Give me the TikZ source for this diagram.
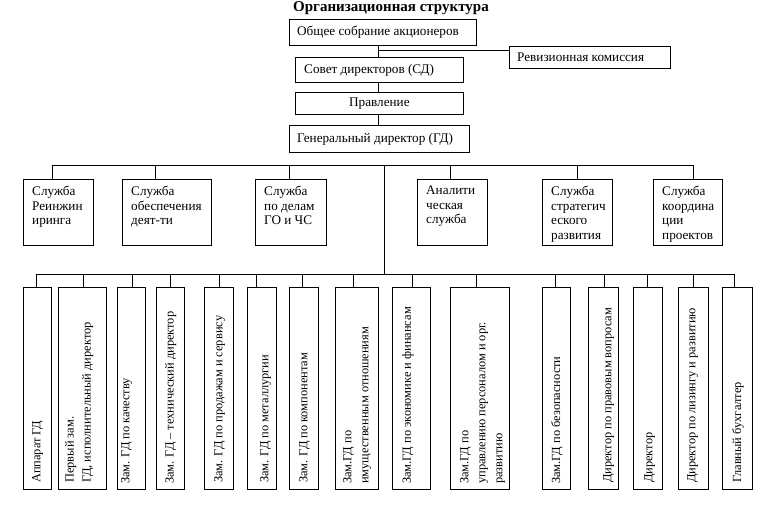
\documentclass[tikz,border=0pt]{standalone}
\usepackage{fontspec}
\setmainfont{Liberation Serif}
\begin{document}
\begin{tikzpicture}[x=1pt,y=-1pt,
  box/.style={draw, line width=0.8pt, inner sep=0pt, anchor=north west},
  lbl/.style={inner sep=0pt, font=\fontsize{13.2}{14.5}\selectfont, align=left},
  vlbl/.style={inner sep=0pt, font=\fontsize{12.4}{17}\selectfont, align=left, rotate=90, anchor=north west},
  wire/.style={line width=0.8pt}]
\useasboundingbox (0,0) rectangle (777,505);
% title
\node[inner sep=0pt, font=\bfseries\fontsize{15}{17}\selectfont] (title) at (391,8.5) {Организационная структура};
% top chain
\node[box, minimum width=187pt, minimum height=26pt] (osa) at (289,19) {};
\node[lbl, anchor=west] (osat) at ([xshift=8pt]osa.west) {Общее собрание акционеров};
\node[box, minimum width=161pt, minimum height=22pt] (rk) at (509,46) {};
\node[lbl, anchor=west] (rkt) at ([xshift=8pt]rk.west) {Ревизионная комиссия};
\node[box, minimum width=168pt, minimum height=25pt] (sd) at (295,57) {};
\node[lbl, anchor=west] (sdt) at ([xshift=9pt]sd.west) {Совет директоров (СД)};
\node[box, minimum width=168pt, minimum height=22pt] (pr) at (295,92) {};
\node[lbl] (prt) at (pr.center) {Правление};
\node[box, minimum width=180pt, minimum height=27pt] (gd) at (289,125) {};
\node[lbl, anchor=west] (gdt) at ([xshift=8pt]gd.west) {Генеральный директор (ГД)};
\coordinate (j1) at (378,50);
\draw[wire] (j1 |- osa.south) -- (j1 |- sd.north);
\draw[wire] (j1) -- (j1 -| rk.west);
\draw[wire] (j1 |- sd.south) -- (j1 |- pr.north);
\draw[wire] (j1 |- pr.south) -- (j1 |- gd.north);
% middle row
\foreach \n/\x/\w/\d in {1/23/70/52, 2/122/89/155, 3/255/71/289, 4/417/70/450, 5/542/70/577, 6/653/69/693} {
  \node[box, minimum width=\w pt, minimum height=66pt] (m\n) at (\x,179) {};
  \coordinate (md\n) at (\d,165);
  \draw[wire] (md\n) -- (md\n |- m\n.north);
}
\draw[wire] (md1) -- (md6);
\node[lbl, anchor=north west] (m1t) at ([shift={(9pt,-7pt)}]m1.north west) {Служба\\Реинжин\\иринга};
\node[lbl, anchor=north west] (m2t) at ([shift={(9pt,-7pt)}]m2.north west) {Служба\\обеспечения\\деят-ти};
\node[lbl, anchor=north west] (m3t) at ([shift={(9pt,-7pt)}]m3.north west) {Служба\\по делам\\ГО и ЧС};
\node[lbl, anchor=north west] (m4t) at ([shift={(9pt,-7pt)}]m4.north west) {Аналити\\ческая\\служба};
\node[lbl, anchor=north west] (m5t) at ([shift={(9pt,-7pt)}]m5.north west) {Служба\\стратегич\\еского\\развития};
\node[lbl, anchor=north west] (m6t) at ([shift={(9pt,-7pt)}]m6.north west) {Служба\\координа\\ции\\проектов};
% main trunk
\coordinate (t1) at (384,165);
\coordinate (t2) at (384,274);
\draw[wire] (t1) -- (t2);
% bottom row
\foreach \n/\x/\w/\d in {1/23/28/36, 2/58/48/83, 3/117/28/132, 4/156/28/170, 5/204/29/219, 6/247/29/256, 7/289/29/302, 8/335/43/353, 9/392/38/412, 10/450/59/476, 11/542/28/555, 12/588/30/604, 13/633/29/647, 14/678/30/693, 15/722/30/734} {
  \node[box, minimum width=\w pt, minimum height=202pt] (b\n) at (\x,287) {};
  \coordinate (bd\n) at (\d,274);
  \draw[wire] (bd\n) -- (bd\n |- b\n.north);
}
\draw[wire] (bd1) -- (bd15);
\node[vlbl] (b1t) at (32,483) {Аппарат ГД};
\node[vlbl] (b2t) at (65,483) {Первый зам.\\ГД, исполнительный директор};
\node[vlbl] (b3t) at (121,484) {Зам. ГД по качеству};
\node[vlbl] (b4t) at (165,484) {Зам. ГД – технический директор};
\node[vlbl] (b5t) at (214,483) {Зам. ГД по продажам и сервису};
\node[vlbl] (b6t) at (260,483) {Зам. ГД по металлургии};
\node[vlbl] (b7t) at (299,483) {Зам. ГД по компонентам};
\node[vlbl] (b8t) at (343,484) {Зам.ГД по\\имущественным отношениям};
\node[vlbl] (b9t) at (402,484) {Зам.ГД по экономике и финансам};
\node[vlbl] (b10t) at (460,484) {Зам.ГД по\\управлению персоналом и орг.\\развитию};
\node[vlbl] (b11t) at (551,484) {Зам.ГД по безопасности};
\node[vlbl] (b12t) at (603,483) {Директор по правовым вопросам};
\node[vlbl] (b13t) at (644,483) {Директор};
\node[vlbl] (b14t) at (687,483) {Директор по лизингу и развитию};
\node[vlbl] (b15t) at (732,483) {Главный бухгалтер};
\end{tikzpicture}
\end{document}
